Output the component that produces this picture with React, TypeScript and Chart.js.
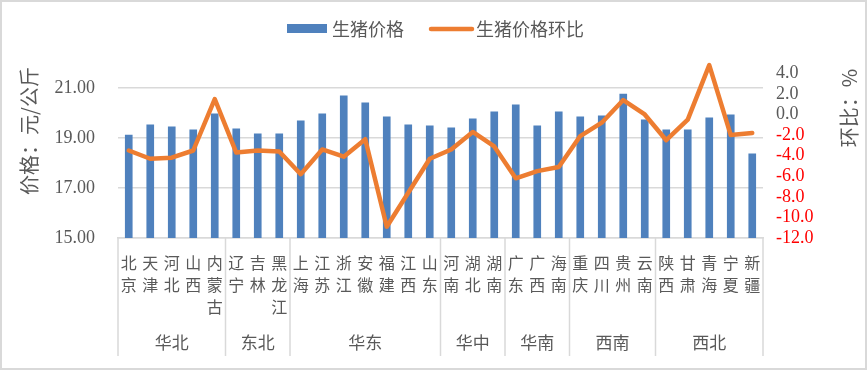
import React, { useEffect, useRef } from 'react';
import { Chart, registerables } from 'chart.js';

Chart.register(...registerables);

const provinces = ['北京', '天津', '河北', '山西', '内蒙古', '辽宁', '吉林', '黑龙江', '上海', '江苏', '浙江', '安徽', '福建', '江西', '山东', '河南', '湖北', '湖南', '广东', '广西', '海南', '重庆', '四川', '贵州', '云南', '陕西', '甘肃', '青海', '宁夏', '新疆'];
const regionNames = ['华北', '东北', '华东', '华中', '华南', '西南', '西北'];
const regionSizes = [5, 3, 7, 3, 3, 4, 5];
const prices = [19.12, 19.53, 19.45, 19.33, 19.97, 19.37, 19.17, 19.17, 19.69, 19.97, 20.69, 20.41, 19.85, 19.53, 19.49, 19.41, 19.77, 20.05, 20.33, 19.49, 20.05, 19.85, 19.89, 20.76, 19.73, 19.33, 19.33, 19.81, 19.93, 18.37];
const changes = [-3.5, -4.3, -4.2, -3.5, 1.5, -3.7, -3.5, -3.6, -5.8, -3.4, -4.1, -2.4, -10.9, -7.6, -4.3, -3.4, -1.7, -3.1, -6.2, -5.5, -5.1, -2.1, -0.8, 1.4, 0.0, -2.5, -0.5, 4.8, -2.0, -1.8];
const priceTicks = [15, 17, 19, 21];
const changeTicks = [-12, -10, -8, -6, -4, -2, 0, 2, 4];
const seriesNames = ['生猪价格', '生猪价格环比'];
const leftTitle = '价格：元/公斤';
const rightTitle = '环比：%';

const CJK = "'Noto Sans CJK SC', 'Noto Sans', sans-serif";
const NUM = "'Liberation Serif', 'Noto Sans CJK SC', serif";
const GRAY = '#595959';
const BLUE = '#4F81BD';
const ORANGE = '#ED7D31';
const LIGHT = '#D9D9D9';

export default function App() {
  const ref = useRef<HTMLCanvasElement>(null);

  useEffect(() => {
    const decor = {
      id: 'decor',
      beforeDraw(chart: any) {
        const ctx = chart.ctx;
        ctx.save();
        ctx.fillStyle = '#FFFFFF';
        ctx.fillRect(0, 0, chart.width, chart.height);
        ctx.restore();
      },
      afterDraw(chart: any) {
        const ctx = chart.ctx;
        const xs = chart.scales.x;
        const area = chart.chartArea;
        ctx.save();

        // group separators and labels
        ctx.strokeStyle = LIGHT;
        ctx.lineWidth = 1.5;
        let start = 0;
        const bounds: number[] = [0];
        regionSizes.forEach((n) => { start += n; bounds.push(start); });
        bounds.forEach((b) => {
          const px = xs.getPixelForValue(b - 0.5);
          ctx.beginPath();
          ctx.moveTo(px, area.bottom);
          ctx.lineTo(px, 356);
          ctx.stroke();
        });
        ctx.fillStyle = GRAY;
        ctx.font = `17px ${CJK}`;
        ctx.textAlign = 'center';
        ctx.textBaseline = 'middle';
        regionNames.forEach((name, i) => {
          const a = xs.getPixelForValue(bounds[i] - 0.5);
          const b = xs.getPixelForValue(bounds[i + 1] - 0.5);
          ctx.fillText(name, (a + b) / 2, 343);
        });

        // legend
        ctx.fillStyle = BLUE;
        ctx.fillRect(287, 24, 40, 9);
        ctx.fillStyle = GRAY;
        ctx.font = `18px ${CJK}`;
        ctx.textAlign = 'left';
        ctx.textBaseline = 'middle';
        ctx.fillText(seriesNames[0], 332, 29);
        ctx.strokeStyle = ORANGE;
        ctx.lineWidth = 4.5;
        ctx.lineCap = 'round';
        ctx.beginPath();
        ctx.moveTo(431, 29);
        ctx.lineTo(472, 29);
        ctx.stroke();
        ctx.fillText(seriesNames[1], 476, 29);

        // axis titles
        ctx.font = `20px ${CJK}`;
        ctx.textAlign = 'center';
        ctx.textBaseline = 'middle';
        ctx.save();
        ctx.translate(29, 131);
        ctx.rotate(-Math.PI / 2);
        ctx.fillText(leftTitle, 0, 0);
        ctx.restore();
        ctx.save();
        ctx.translate(849, 108);
        ctx.rotate(-Math.PI / 2);
        ctx.fillText(rightTitle, 0, 0);
        ctx.restore();

        // outer border
        ctx.strokeStyle = LIGHT;
        ctx.lineWidth = 2;
        ctx.lineCap = 'butt';
        ctx.strokeRect(1, 1, chart.width - 2, chart.height - 2);
        ctx.restore();
      },
    };

    const chart = new Chart(ref.current as HTMLCanvasElement, {
      type: 'bar',
      data: {
        labels: provinces.map((p) => p.split('')),
        datasets: [
          {
            type: 'bar',
            label: seriesNames[0],
            data: prices,
            backgroundColor: BLUE,
            yAxisID: 'y',
            barThickness: 7,
            order: 2,
          } as any,
          {
            type: 'line',
            label: seriesNames[1],
            data: changes,
            borderColor: ORANGE,
            backgroundColor: ORANGE,
            borderWidth: 4.5,
            pointRadius: 0,
            tension: 0,
            borderJoinStyle: 'round',
            borderCapStyle: 'round',
            yAxisID: 'y1',
            order: 1,
            clip: 6,
          } as any,
        ],
      },
      options: {
        animation: false,
        responsive: false,
        devicePixelRatio: 1,
        layout: { padding: { top: 63, left: 0, right: 0, bottom: 0 } },
        plugins: { legend: { display: false }, tooltip: { enabled: false } },
        scales: {
          x: {
            grid: { display: false, drawTicks: false },
            border: { display: true, color: LIGHT, width: 1.5 },
            ticks: {
              autoSkip: false,
              maxRotation: 0,
              minRotation: 0,
              padding: 14,
              color: GRAY,
              font: { family: CJK, size: 16, lineHeight: 1.375 },
            },
            afterFit: (s: any) => { s.height = 132; },
          },
          y: {
            position: 'left',
            min: 15,
            max: 22,
            afterBuildTicks: (s: any) => { s.ticks = priceTicks.map((v) => ({ value: v })); },
            ticks: {
              autoSkip: false,
              padding: 23,
              color: GRAY,
              font: { family: NUM, size: 18 },
              callback: (v: any) => Number(v).toFixed(2),
            },
            grid: { color: LIGHT, lineWidth: 1.5, drawTicks: false },
            border: { display: false },
            afterFit: (s: any) => { s.width = 118; },
          },
          y1: {
            position: 'right',
            min: -12,
            max: 5,
            afterBuildTicks: (s: any) => { s.ticks = changeTicks.map((v) => ({ value: v })); },
            ticks: {
              autoSkip: false,
              padding: 13,
              color: (c: any) => (c.tick && c.tick.value < 0 ? '#FF0000' : GRAY),
              font: { family: NUM, size: 18 },
              callback: (v: any) => Number(v).toFixed(1),
            },
            grid: { display: false, drawTicks: false },
            border: { display: false },
            afterFit: (s: any) => { s.width = 104; },
          },
        },
      } as any,
      plugins: [decor],
    });
    return () => chart.destroy();
  }, []);

  return (
    <div style={{ position: 'fixed', left: 0, top: 0, width: 867, height: 370, background: '#fff' }}>
      <canvas ref={ref} width={867} height={370} style={{ width: 867, height: 370, display: 'block' }} />
    </div>
  );
}
